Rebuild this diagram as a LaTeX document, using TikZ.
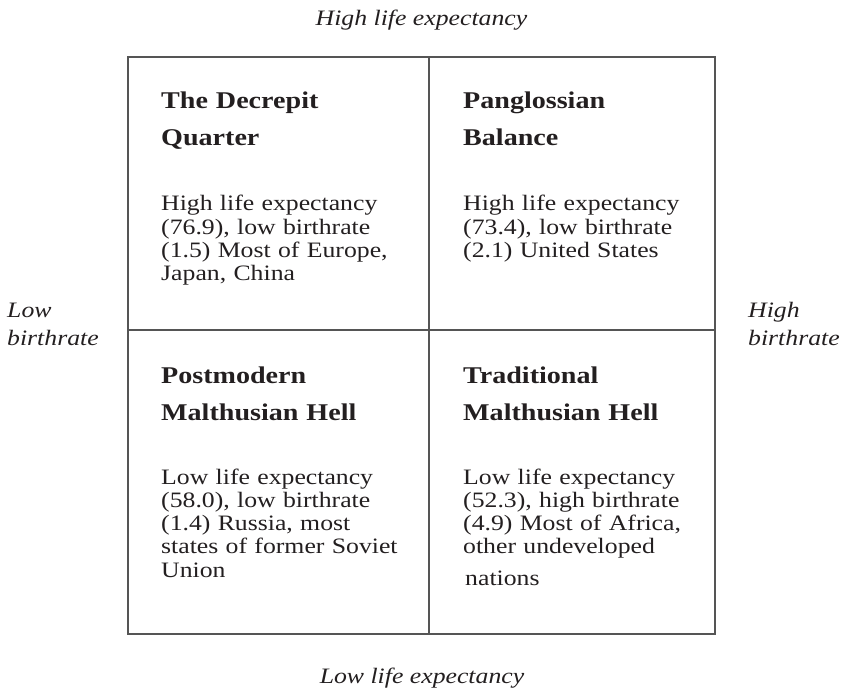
\documentclass[tikz,border=0pt]{standalone}
\usepackage{fontspec}
\setmainfont{Liberation Serif}[FakeStretch=1.17]
\definecolor{txt}{RGB}{35,31,32}
\definecolor{rule}{RGB}{85,85,85}
\newcommand\myheadfont{\fontsize{24}{37}\selectfont\bfseries}
\newcommand\mybodyfont{\fontsize{22}{23.3}\selectfont}
\newcommand\mylabelfont{\fontsize{22}{28}\selectfont\itshape}
\tikzset{
  heading/.style={font=\myheadfont, text=txt, anchor=base west, inner sep=0pt, text width=260pt, align=left},
  bodytext/.style={font=\mybodyfont, text=txt, anchor=base west, inner sep=0pt, text width=260pt, align=left},
  axislabel/.style={font=\mylabelfont, text=txt, inner sep=0pt},
  frame/.style={draw=rule, line width=1.6pt}
}
\begin{document}
\begin{tikzpicture}[x=1pt,y=-1pt]
\useasboundingbox (0,0) rectangle (841,690);
% frame and dividers
\coordinate (tl) at (128,57);
\coordinate (br) at (715,634);
\coordinate (tm) at (429,57);
\coordinate (bm) at (429,634);
\coordinate (lm) at (128,330);
\coordinate (rm) at (715,330);
\draw[frame] (tl) rectangle (br);
\draw[frame] (tm) -- (bm);
\draw[frame] (lm) -- (rm);
% axis labels
\node[axislabel, anchor=base] (top) at (421.5,26) {High life expectancy};
\node[axislabel, anchor=base] (bottom) at (422,683) {Low life expectancy};
\node[axislabel, anchor=base west, text width=100pt, align=left] (left) at (7,317) {Low\\birthrate};
\node[axislabel, anchor=base west, text width=100pt, align=left] (right) at (748,317) {High\\birthrate};
% top left
\node[heading] (h1) at (161,109) {The Decrepit\\Quarter};
\node[bodytext] (b1) at (161,211) {High life expectancy\\(76.9), low birthrate\\(1.5) Most of Europe,\\Japan, China};
% top right
\node[heading] (h2) at (463,109) {Panglossian\\Balance};
\node[bodytext] (b2) at (463,211) {High life expectancy\\(73.4), low birthrate\\(2.1) United States};
% bottom left
\node[heading] (h3) at (161,383) {Postmodern\\Malthusian Hell};
\node[bodytext] (b3) at (161,484) {Low life expectancy\\(58.0), low birthrate\\(1.4) Russia, most\\states of former Soviet\\Union};
% bottom right
\node[heading] (h4) at (463,383) {Traditional\\Malthusian Hell};
\node[bodytext] (b4) at (463,484) {Low life expectancy\\(52.3), high birthrate\\(4.9) Most of Africa,\\other undeveloped\\[8pt]\hspace*{2pt}nations};
\end{tikzpicture}
\end{document}
